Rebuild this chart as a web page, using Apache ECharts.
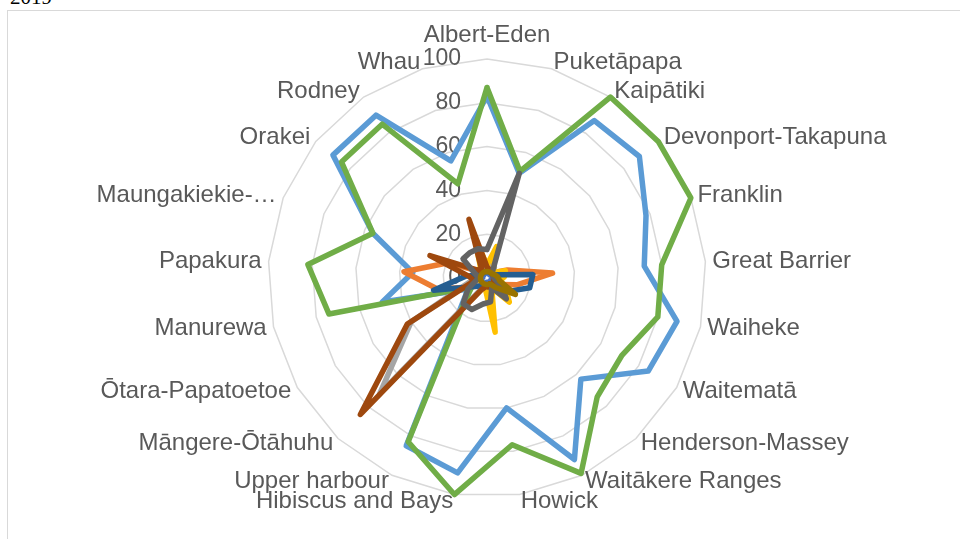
<!DOCTYPE html>
<html>
<head>
<meta charset="utf-8">
<script src="https://cdn.jsdelivr.net/npm/echarts@6/dist/echarts.min.js"></script>
<style>
  html, body { margin: 0; padding: 0; background: #fff; overflow: hidden; }
  #frame { position: absolute; left: 7px; top: 10px; width: 1000px; height: 600px; border: 1px solid #d9d9d9; }
  #year { position: absolute; left: 10px; top: -15px; font-family: 'Liberation Serif', serif; font-size: 21px; color: #000; }
  #main { position: absolute; left: 0; top: 0; width: 960px; height: 539px; }
</style>
</head>
<body>
<div id="year">2019</div>
<div id="frame"></div>
<div id="main"></div>
<script>
// local boards, clockwise from the top
var boards = ['Albert-Eden', 'Puketāpapa', 'Kaipātiki', 'Devonport-Takapuna', 'Franklin', 'Great Barrier',
  'Waiheke', 'Waitematā', 'Henderson-Massey', 'Waitākere Ranges', 'Howick', 'Hibiscus and Bays',
  'Upper harbour', 'Māngere-Ōtāhuhu', 'Ōtara-Papatoetoe', 'Manurewa', 'Papakura', 'Maungakiekie-…',
  'Orakei', 'Rodney', 'Whau']
var ticks = [0, 20, 40, 60, 80, 100]

var s1 = [83, 50, 87, 89, 78, 72, 89, 85, 63, 92, 60, 90, 85, 17, 10, 49, 34, 56, 90, 90, 56]
var s2 = [3, 3, 3, 4, 10, 30, 14, 6, 4, 3, 5, 3, 4, 5, 8, 23, 38, 19, 5, 3, 4]
var s3 = [4, 6, 6, 4, 3, 3, 3, 4, 5, 3, 3, 3, 5, 72, 40, 8, 5, 6, 4, 3, 6]
var s4 = [6, 15, 5, 4, 9, 8, 6, 10, 15, 5, 25, 5, 4, 3, 3, 4, 5, 4, 6, 5, 19]
var s5 = [3, 2, 3, 2, 3, 3, 3, 2, 3, 2, 3, 2, 3, 3, 3, 3, 2, 3, 2, 3, 3]
var s6 = [87, 51, 100, 100, 100, 80, 80, 71, 74, 99, 77, 100, 83, 15, 8, 74, 82, 56, 85, 85, 45]
var s7 = [3, 3, 3, 3, 4, 21, 20, 12, 5, 3, 4, 3, 4, 5, 8, 25, 10, 4, 3, 3, 3]
var s8 = [5, 4, 3, 3, 3, 3, 3, 4, 5, 3, 4, 4, 6, 85, 42, 6, 8, 28, 6, 4, 28]
var s9 = [13, 50, 5, 3, 3, 3, 4, 8, 13, 5, 11, 12, 16, 16, 10, 5, 4, 6, 14, 14, 14]
var s10 = [3, 3, 3, 3, 4, 5, 6, 15, 6, 3, 3, 3, 3, 3, 3, 3, 3, 3, 3, 3, 3]

var allSeries = [s1, s2, s3, s4, s5, s6, s7, s8, s9, s10]
var colors = ['#5B9BD5', '#ED7D31', '#A5A5A5', '#FFC000', '#4472C4', '#70AD47', '#255E91', '#9E480E', '#636363', '#997300']

// echarts radar runs counter-clockwise, so flip the order after the first item
var order = [0]
for (let i = boards.length - 1; i > 0; i--) {
  order.push(i)
}

var chartDom = document.getElementById('main')
var myChart = echarts.init(chartDom)
var option

let indicators = order.map(function (idx, k) {
  let ind = { name: boards[idx], min: ticks[0], max: ticks[ticks.length - 1] }
  if (k === 0) {
    ind.axisLabel = {
      show: true,
      color: '#595959',
      fontSize: 23,
      fontFamily: 'Liberation Sans',
      margin: 26
    }
  }
  return ind
})

let grop = []
for (let i = 0; i < allSeries.length; i++) {
  grop.push({
    type: 'radar',
    symbol: 'none',
    silent: true,
    lineStyle: { color: colors[i], width: 5.5, cap: 'round', join: 'round' },
    data: [{ value: order.map(idx => allSeries[i][idx]) }]
  })
}

option = {
  animation: false,
  radar: {
    center: [487, 278],
    radius: 219,
    startAngle: 90,
    splitNumber: ticks.length - 1,
    shape: 'polygon',
    axisNameGap: 7,
    axisName: { color: '#595959', fontSize: 24, fontFamily: 'Liberation Sans' },
    axisLine: { show: false },
    axisTick: { show: false },
    axisLabel: { show: false },
    splitArea: { show: false },
    splitLine: { lineStyle: { color: '#d9d9d9', width: 1.5 } },
    indicator: indicators
  },
  series: grop
}

option && myChart.setOption(option)
</script>
</body>
</html>
